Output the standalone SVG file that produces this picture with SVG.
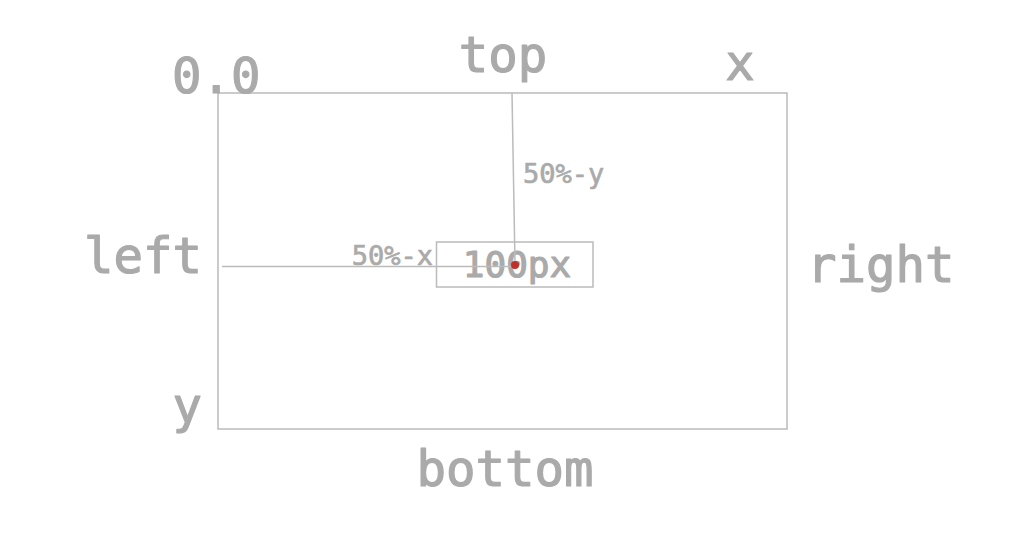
<svg xmlns="http://www.w3.org/2000/svg" width="1022" height="545" viewBox="0 0 1022 545">
<style>
.t{font-family:"DejaVu Sans Mono","Liberation Mono",monospace;font-weight:normal;fill:#aaaaaa;stroke:#aaaaaa;stroke-width:1.2;stroke-linejoin:round}
.big{font-size:49px}
.mid{font-size:36px}
.sm{font-size:27px;stroke-width:0.7}
.ln{stroke:#bbbbbb;stroke-width:1.5;fill:none}
</style>
<rect width="1022" height="545" fill="#ffffff"/>
<g id="frame">
<rect class="ln" x="218" y="93" width="569" height="336"/>
</g>
<g id="labels">
<text class="t big" x="172" y="93">0.0</text>
<text class="t big" x="503" y="72" text-anchor="middle">top</text>
<text class="t big" x="740" y="80" text-anchor="middle">x</text>
<text class="t big" x="202" y="273" text-anchor="end">left</text>
<text class="t big" x="807" y="282">right</text>
<text class="t big" x="202" y="423" text-anchor="end">y</text>
<text class="t big" x="505" y="486" text-anchor="middle">bottom</text>
</g>
<g id="box">
<rect class="ln" x="436.5" y="242" width="156.5" height="45"/>
<text class="t mid" x="517" y="277" text-anchor="middle">100px</text>
</g>
<g id="connectors">
<line class="ln" x1="222" y1="266.5" x2="514" y2="266.5"/>
<line class="ln" x1="512" y1="93" x2="515" y2="264"/>
<text class="t sm" x="523" y="183">50%-y</text>
<text class="t sm" x="433" y="265" text-anchor="end">50%-x</text>
</g>
<g id="origin">
<circle cx="515" cy="265" r="4" fill="#c0302a"/>
</g>
</svg>
